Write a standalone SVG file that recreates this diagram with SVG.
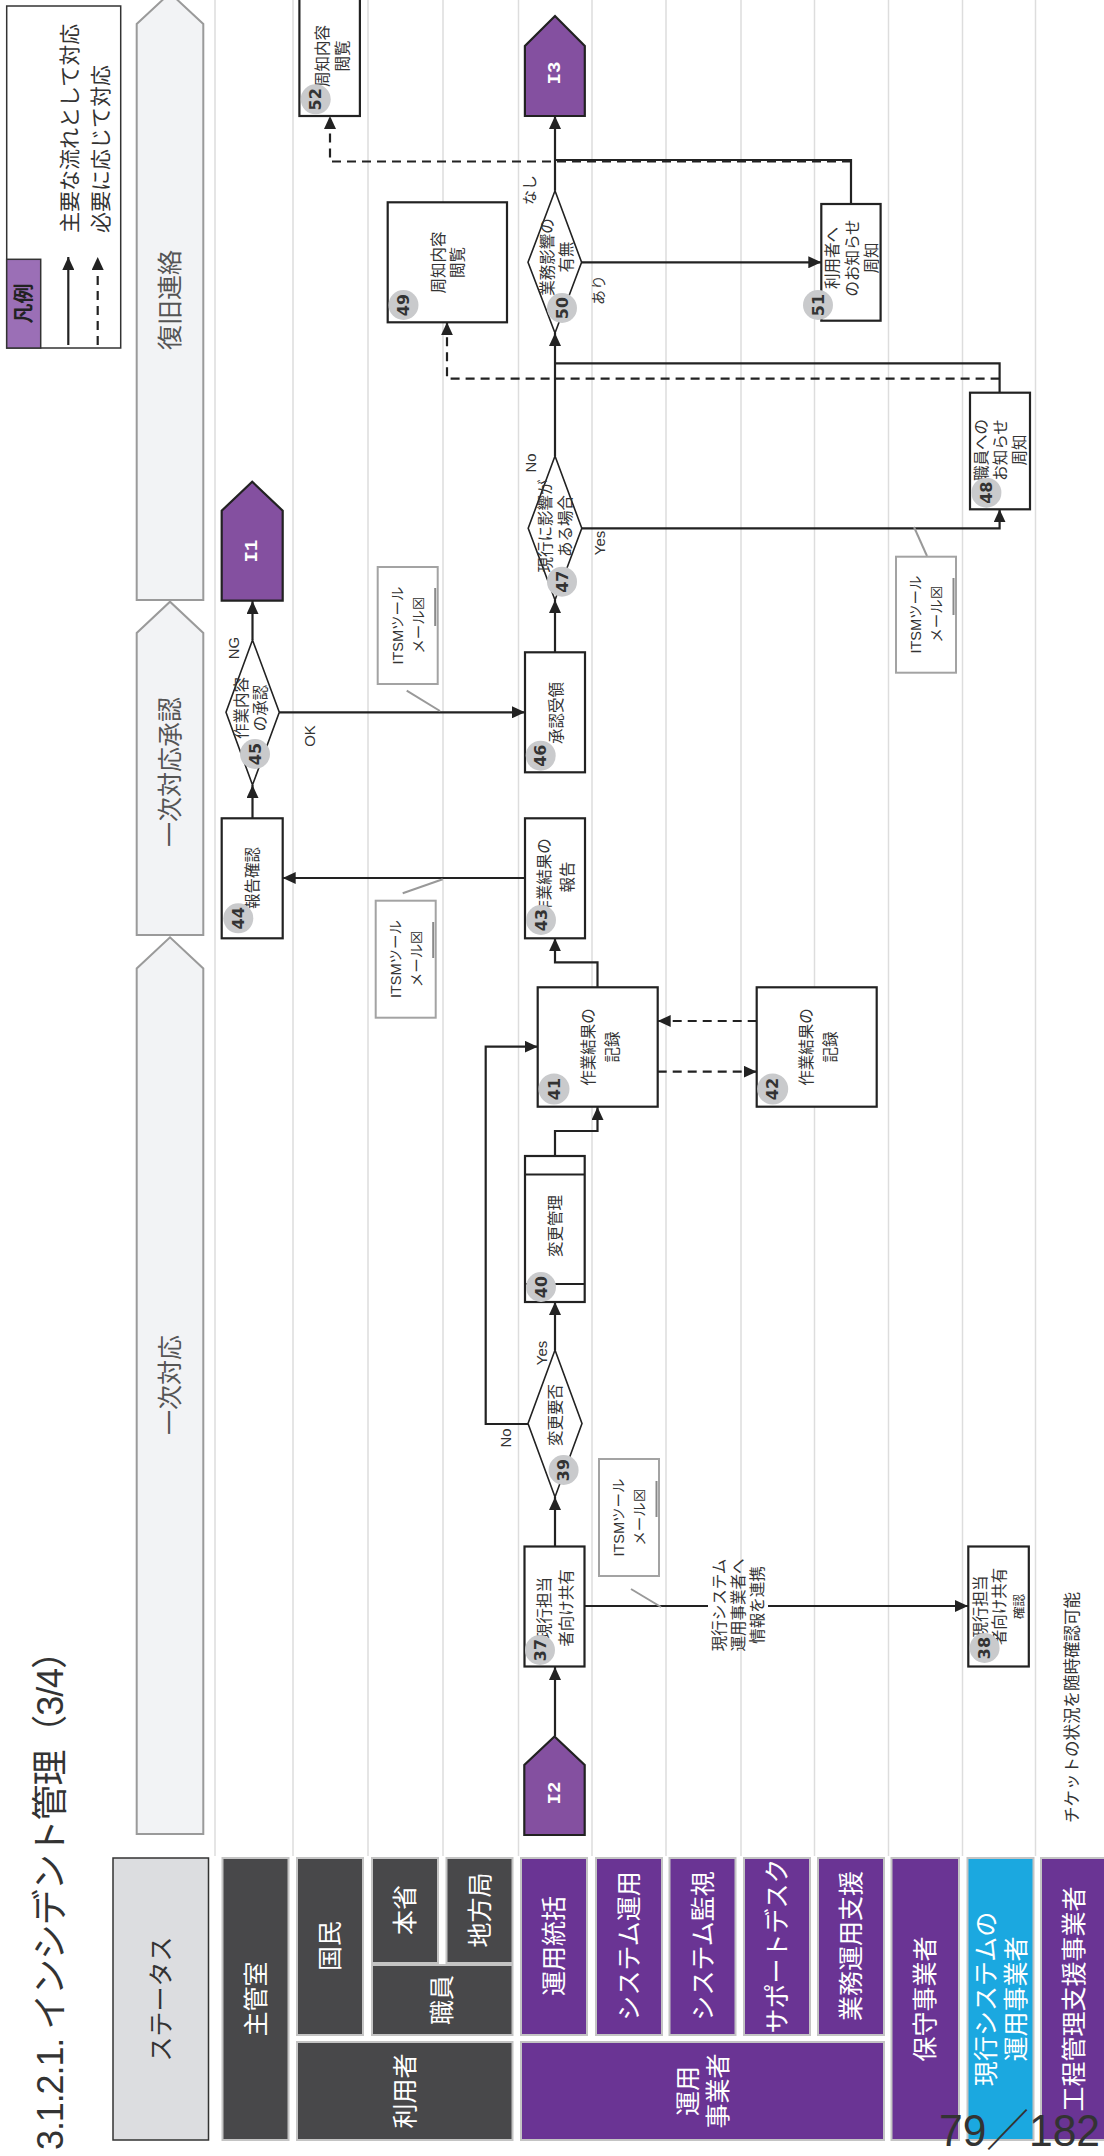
<svg xmlns="http://www.w3.org/2000/svg" width="1104" height="2156" viewBox="0 0 1104 2156">
<style>
text{font-family:'Liberation Sans','Noto Sans CJK JP',sans-serif;text-anchor:middle;dominant-baseline:central}
.lane{stroke:#dddddd;stroke-width:1.5}
.chev{fill:#f2f3f5;stroke:#9a9a9a;stroke-width:2}
.chevt{font-size:25px;fill:#555}
.hd{fill:#48484a;stroke:#c4c4c4;stroke-width:2}
.hp{fill:#6a3494;stroke:#c4c4c4;stroke-width:2}
.hc{fill:#1ba8e0;stroke:#c4c4c4;stroke-width:2}
.ht{fill:#fff;font-size:25px}
.box{fill:#fff;stroke:#222;stroke-width:2.2}
.dia{fill:#fff;stroke:#222;stroke-width:1.6}
.nt{font-size:15.5px;fill:#333}
.bg{fill:#c9cacc}
.bn{font-family:'DejaVu Sans',sans-serif;font-size:16px;font-weight:bold;fill:#333}
.itsm{fill:#fff;stroke:#a3a3a3;stroke-width:2}
.itb{stroke:#8a8a8a;stroke-width:2}
.itt{font-size:14.5px;fill:#333}
.tick{stroke:#999;stroke-width:2}
.con{fill:none;stroke:#222;stroke-width:2.2}
.dash{stroke-dasharray:9 6}
.lbl{font-size:15px;fill:#333}
.pent{fill:#8450a0;stroke:#222;stroke-width:2.2}
.pt{font-family:'Liberation Mono',monospace;font-weight:bold;font-size:19px;fill:#fff}
</style>
<defs>
<marker id="ah" markerUnits="userSpaceOnUse" markerWidth="14" markerHeight="12" refX="13" refY="6" orient="auto">
<path d="M0,0 L13,6 L0,12 Z" fill="#222"/>
</marker>
</defs>

<rect width="1104" height="2156" fill="#fff"/>

<!-- swimlane separators -->
<g id="lanes">
<line class="lane" x1="215" y1="0" x2="215" y2="1856"/>
<line class="lane" x1="293" y1="0" x2="293" y2="1856"/>
<line class="lane" x1="368" y1="0" x2="368" y2="1856"/>
<line class="lane" x1="443" y1="0" x2="443" y2="1856"/>
<line class="lane" x1="518.5" y1="0" x2="518.5" y2="1856"/>
<line class="lane" x1="592" y1="0" x2="592" y2="1856"/>
<line class="lane" x1="666" y1="0" x2="666" y2="1856"/>
<line class="lane" x1="741" y1="0" x2="741" y2="1856"/>
<line class="lane" x1="814.5" y1="0" x2="814.5" y2="1856"/>
<line class="lane" x1="888.5" y1="0" x2="888.5" y2="1856"/>
<line class="lane" x1="962.5" y1="0" x2="962.5" y2="1856"/>
<line class="lane" x1="1035.5" y1="0" x2="1035.5" y2="1856"/>
</g>

<!-- title -->
<text transform="translate(63 2150) rotate(-90)" style="text-anchor:start;dominant-baseline:alphabetic" font-size="36" fill="#333" textLength="517" lengthAdjust="spacing">3.1.2.1. インシデント管理（3/4）</text>

<!-- legend -->
<g id="legend">
<rect x="6.7" y="6" width="114" height="342" fill="#fff" stroke="#333" stroke-width="1.5"/>
<rect x="6.7" y="259.3" width="34" height="88.7" fill="#9b6fb6" stroke="#333" stroke-width="1.5"/>
<text transform="translate(24 303.5) rotate(-90)" font-size="20" font-weight="bold" fill="#222">凡例</text>
<line class="con" x1="68.3" y1="345" x2="68.3" y2="257" marker-end="url(#ah)"/>
<line class="con dash" x1="97.7" y1="345" x2="97.7" y2="257" marker-end="url(#ah)"/>
<text transform="translate(69 233) rotate(-90)" style="text-anchor:start" font-size="21" fill="#333">主要な流れとして対応</text>
<text transform="translate(100 233) rotate(-90)" style="text-anchor:start" font-size="21" fill="#333">必要に応じて対応</text>
</g>

<!-- status phases -->
<g id="status">
<path class="chev" d="M136.7,600 V24 L170,-7 L203.3,24 V600 Z"/>
<text class="chevt" transform="translate(170 300) rotate(-90)">復旧連絡</text>
<path class="chev" d="M136.7,935 V633 L170,601.7 L203.3,633 V935 Z"/>
<text class="chevt" transform="translate(170 772) rotate(-90)">一次対応承認</text>
<path class="chev" d="M136.7,1834 V968.5 L170,937.3 L203.3,968.5 V1834 Z"/>
<text class="chevt" transform="translate(170 1385) rotate(-90)">一次対応</text>
</g>

<!-- lane headers -->
<g id="headers">
<rect x="113" y="1858" width="95.5" height="282" fill="#dcdde0" stroke="#333" stroke-width="1.5"/>
<text transform="translate(160.7 1999) rotate(-90)" font-size="25" fill="#333">ステータス</text>
<rect class="hd" x="222.5" y="1858" width="66" height="282"/>
<text class="ht" transform="translate(255.5 1999) rotate(-90)">主管室</text>
<rect class="hd" x="297" y="1858" width="66" height="177"/>
<text class="ht" transform="translate(330 1946) rotate(-90)">国民</text>
<rect class="hd" x="372" y="1858" width="66" height="105"/>
<text class="ht" transform="translate(405 1910) rotate(-90)">本省</text>
<rect class="hd" x="446.5" y="1858" width="66" height="105"/>
<text class="ht" transform="translate(479.5 1910) rotate(-90)">地方局</text>
<rect class="hd" x="372" y="1965" width="140.5" height="70"/>
<text class="ht" transform="translate(442 2000) rotate(-90)">職員</text>
<rect class="hd" x="297" y="2042" width="215.5" height="98"/>
<text class="ht" transform="translate(405 2091) rotate(-90)">利用者</text>
<rect class="hp" x="521" y="1858" width="66" height="177"/>
<text class="ht" transform="translate(554 1946) rotate(-90)">運用統括</text>
<rect class="hp" x="596" y="1858" width="66" height="177"/>
<text class="ht" transform="translate(629 1946) rotate(-90)">システム運用</text>
<rect class="hp" x="669.5" y="1858" width="66" height="177"/>
<text class="ht" transform="translate(702.5 1946) rotate(-90)">システム監視</text>
<rect class="hp" x="744" y="1858" width="66" height="177"/>
<text class="ht" transform="translate(777 1946) rotate(-90)">サポートデスク</text>
<rect class="hp" x="818" y="1858" width="66" height="177"/>
<text class="ht" transform="translate(851 1946) rotate(-90)">業務運用支援</text>
<rect class="hp" x="521" y="2042" width="363" height="98"/>
<text class="ht" transform="translate(703 2091) rotate(-90)"><tspan x="0" y="-15">運用</tspan><tspan x="0" y="15">事業者</tspan></text>
<rect class="hp" x="891.5" y="1858" width="67.5" height="282"/>
<text class="ht" transform="translate(925 1999) rotate(-90)">保守事業者</text>
<rect class="hc" x="967.5" y="1858" width="66" height="282"/>
<text class="ht" transform="translate(1001 1999) rotate(-90)" font-size="23"><tspan x="0" y="-15">現行システムの</tspan><tspan x="0" y="15">運用事業者</tspan></text>
<rect class="hp" x="1041" y="1858" width="66" height="282"/>
<text class="ht" transform="translate(1074 1999) rotate(-90)">工程管理支援事業者</text>
</g>

<!-- connectors -->
<g id="connectors">
<path class="con" d="M555,1736 V1667" marker-end="url(#ah)"/>
<path class="con" d="M555,1546 V1497" marker-end="url(#ah)"/>
<path class="con" d="M585,1606 H968" marker-end="url(#ah)"/>
<path class="con" d="M555,1350 V1302" marker-end="url(#ah)"/>
<path class="con" d="M528,1424 H485.7 V1046.7 H537.7" marker-end="url(#ah)"/>
<path class="con" d="M555,1156 V1131 H597.5 V1107" marker-end="url(#ah)"/>
<path class="con dash" d="M657.7,1071.7 H756.7" marker-end="url(#ah)"/>
<path class="con dash" d="M756.7,1021 H657.7" marker-end="url(#ah)"/>
<path class="con" d="M597.5,987 V962.3 H555 V938.3" marker-end="url(#ah)"/>
<path class="con" d="M525,878 H282.7" marker-end="url(#ah)"/>
<path class="con" d="M252.5,818 V785" marker-end="url(#ah)"/>
<path class="con" d="M252.5,640 V601" marker-end="url(#ah)"/>
<path class="con" d="M279.3,712.3 H525" marker-end="url(#ah)"/>
<path class="con" d="M555,652 V600" marker-end="url(#ah)"/>
<path class="con" d="M581.8,528.3 H999.6 V509.3" marker-end="url(#ah)"/>
<path class="con" d="M555,456 V333" marker-end="url(#ah)"/>
<path class="con" d="M999.6,392.7 V363.3 H555"/>
<path class="con dash" d="M999.6,378.7 H447 V322.3" marker-end="url(#ah)"/>
<path class="con" d="M581.6,262.3 H821.3" marker-end="url(#ah)"/>
<path class="con" d="M555,190.7 V116" marker-end="url(#ah)"/>
<path class="con" d="M851,204 V160 H555"/>
<path class="con dash" d="M851,161.5 H330 V116" marker-end="url(#ah)"/>

<rect x="708" y="1590" width="60" height="32" fill="#fff"/>
<text class="nt" font-size="14.5" transform="translate(737.5 1605) rotate(-90)"><tspan x="0" y="-18.5">現行システム</tspan><tspan x="0" y="0">運用事業者へ</tspan><tspan x="0" y="19">情報を連携</tspan></text>

<text class="lbl" transform="translate(541.7 1353) rotate(-90)">Yes</text>
<text class="lbl" transform="translate(505 1438) rotate(-90)">No</text>
<text class="lbl" transform="translate(233.3 648) rotate(-90)">NG</text>
<text class="lbl" transform="translate(309 736) rotate(-90)">OK</text>
<text class="lbl" transform="translate(530 463) rotate(-90)">No</text>
<text class="lbl" transform="translate(599.6 543) rotate(-90)">Yes</text>
<text class="lbl" transform="translate(529.6 190) rotate(-90)">なし</text>
<text class="lbl" transform="translate(598 290) rotate(-90)">あり</text>
</g>

<!-- tool callouts -->
<g id="itsm1">
<line class="tick" x1="631" y1="1589" x2="661" y2="1607"/>
<rect class="itsm" x="599" y="1459" width="60" height="117"/>
<line class="itb" x1="656.5" y1="1481" x2="656.5" y2="1517"/>
<text class="itt" transform="translate(629.5 1517.5) rotate(-90)"><tspan x="0" y="-10.5">ITSMツール</tspan><tspan x="0" y="10.5">メール☒</tspan></text>
</g>
<g id="itsm2">
<line class="tick" x1="406.7" y1="690.7" x2="440" y2="711"/>
<rect class="itsm" x="377.7" y="567" width="60" height="117"/>
<line class="itb" x1="435.2" y1="588" x2="435.2" y2="626"/>
<text class="itt" transform="translate(408 625.5) rotate(-90)"><tspan x="0" y="-10.5">ITSMツール</tspan><tspan x="0" y="10.5">メール☒</tspan></text>
</g>
<g id="itsm3">
<line class="tick" x1="402.7" y1="893.3" x2="442.7" y2="879.3"/>
<rect class="itsm" x="375.7" y="900.7" width="60" height="117"/>
<line class="itb" x1="433.2" y1="922" x2="433.2" y2="958"/>
<text class="itt" transform="translate(406 959) rotate(-90)"><tspan x="0" y="-10.5">ITSMツール</tspan><tspan x="0" y="10.5">メール☒</tspan></text>
</g>
<g id="itsm4">
<line class="tick" x1="914" y1="527" x2="927" y2="556"/>
<rect class="itsm" x="896" y="556.7" width="60" height="116"/>
<line class="itb" x1="953.5" y1="578" x2="953.5" y2="615"/>
<text class="itt" transform="translate(926.5 614.5) rotate(-90)"><tspan x="0" y="-10.5">ITSMツール</tspan><tspan x="0" y="10.5">メール☒</tspan></text>
</g>

<!-- off-page connectors -->
<g id="I1">
<path class="pent" d="M221.7,600.7 V510.7 L252.2,481.7 L282.7,510.7 V600.7 Z"/>
<text class="pt" transform="translate(252.2 551) rotate(-90)">I1</text>
</g>
<g id="I2">
<path class="pent" d="M524.3,1835 V1765 L554.5,1736.5 L584.7,1765 V1835 Z"/>
<text class="pt" transform="translate(554.5 1793) rotate(-90)">I2</text>
</g>
<g id="I3">
<path class="pent" d="M524.9,116 V46 L555,16 L584.8,46 V116 Z"/>
<text class="pt" transform="translate(555 73) rotate(-90)">I3</text>
</g>

<!-- process nodes -->
<g id="n37">
<rect class="box" x="524.5" y="1546.5" width="60" height="120"/>
<text class="nt" transform="translate(554.5 1608) rotate(-90)"><tspan x="0" y="-11">現行担当</tspan><tspan x="0" y="11">者向け共有</tspan></text>
<circle class="bg" cx="540" cy="1650" r="15"/>
<text class="bn" transform="translate(540 1650) rotate(-90)">37</text>
</g>
<g id="n38">
<rect class="box" x="968.3" y="1546.5" width="60.5" height="120"/>
<text class="nt" transform="translate(999 1606.5) rotate(-90)"><tspan x="0" y="-19">現行担当</tspan><tspan x="0" y="0">者向け共有</tspan><tspan x="0" y="21" font-size="12.5">確認</tspan></text>
<circle class="bg" cx="984.6" cy="1648" r="15"/>
<text class="bn" transform="translate(984.6 1648) rotate(-90)">38</text>
</g>
<g id="n39">
<path class="dia" d="M555,1350 L582,1423.5 L555,1497 L528,1423.5 Z"/>
<text class="nt" font-size="16" transform="translate(555.5 1415) rotate(-90)">変更要否</text>
<circle class="bg" cx="563.6" cy="1470" r="15"/>
<text class="bn" transform="translate(563.6 1470) rotate(-90)">39</text>
</g>
<g id="n40">
<rect class="box" x="525" y="1156" width="59.7" height="146"/>
<line x1="525" y1="1174.5" x2="584.7" y2="1174.5" stroke="#222" stroke-width="2"/>
<line x1="525" y1="1284" x2="584.7" y2="1284" stroke="#222" stroke-width="2"/>
<text class="nt" font-size="16.5" transform="translate(555.5 1226) rotate(-90)">変更管理</text>
<circle class="bg" cx="541" cy="1287" r="15"/>
<text class="bn" transform="translate(541 1287) rotate(-90)">40</text>
</g>
<g id="n41">
<rect class="box" x="537.7" y="987.3" width="120" height="119.4"/>
<text class="nt" font-size="16.5" transform="translate(599.5 1047) rotate(-90)"><tspan x="0" y="-12">作業結果の</tspan><tspan x="0" y="12">記録</tspan></text>
<circle class="bg" cx="554" cy="1089" r="15.5"/>
<text class="bn" transform="translate(554 1089) rotate(-90)">41</text>
</g>
<g id="n42">
<rect class="box" x="756.7" y="987.3" width="120" height="119.4"/>
<text class="nt" font-size="16.5" transform="translate(818 1047) rotate(-90)"><tspan x="0" y="-12">作業結果の</tspan><tspan x="0" y="12">記録</tspan></text>
<circle class="bg" cx="772.7" cy="1089" r="15.5"/>
<text class="bn" transform="translate(772.7 1089) rotate(-90)">42</text>
</g>
<g id="n43">
<rect class="box" x="525" y="818.3" width="60" height="120"/>
<text class="nt" transform="translate(555 877) rotate(-90)"><tspan x="0" y="-11.5">作業結果の</tspan><tspan x="0" y="11.5">報告</tspan></text>
<circle class="bg" cx="541" cy="920" r="15"/>
<text class="bn" transform="translate(541 920) rotate(-90)">43</text>
</g>
<g id="n44">
<rect class="box" x="221.7" y="818.3" width="61" height="120"/>
<text class="nt" font-size="15.5" transform="translate(252.5 878) rotate(-90)">報告確認</text>
<circle class="bg" cx="238.3" cy="918.3" r="15"/>
<text class="bn" transform="translate(238.3 918.3) rotate(-90)">44</text>
</g>
<g id="n45">
<path class="dia" d="M252.5,640 L279.3,712.3 L252.5,785 L226,712.3 Z"/>
<text class="nt" font-size="15.5" transform="translate(250.5 708) rotate(-90)"><tspan x="0" y="-9.5">作業内容</tspan><tspan x="0" y="9.5">の承認</tspan></text>
<circle class="bg" cx="255" cy="754" r="15"/>
<text class="bn" transform="translate(255 754) rotate(-90)">45</text>
</g>
<g id="n46">
<rect class="box" x="525" y="652.3" width="60" height="120"/>
<text class="nt" font-size="16.5" transform="translate(556.5 713) rotate(-90)">承認受領</text>
<circle class="bg" cx="540.7" cy="755.7" r="15"/>
<text class="bn" transform="translate(540.7 755.7) rotate(-90)">46</text>
</g>
<g id="n47">
<path class="dia" d="M555,456 L581.8,528.3 L555,600 L528.2,528.3 Z"/>
<text class="nt" font-size="15" transform="translate(555 526) rotate(-90)"><tspan x="0" y="-10">現行に影響が</tspan><tspan x="0" y="10">ある場合</tspan></text>
<circle class="bg" cx="562" cy="581.7" r="15"/>
<text class="bn" transform="translate(562 581.7) rotate(-90)">47</text>
</g>
<g id="n48">
<rect class="box" x="970" y="392.7" width="60" height="116.6"/>
<text class="nt" font-size="15" transform="translate(1000 450) rotate(-90)"><tspan x="0" y="-19">職員への</tspan><tspan x="0" y="0">お知らせ</tspan><tspan x="0" y="19">周知</tspan></text>
<circle class="bg" cx="986.4" cy="492.7" r="15"/>
<text class="bn" transform="translate(986.4 492.7) rotate(-90)">48</text>
</g>
<g id="n49">
<rect class="box" x="387.7" y="202.3" width="119.3" height="120"/>
<text class="nt" transform="translate(447 262.5) rotate(-90)"><tspan x="0" y="-9.5">周知内容</tspan><tspan x="0" y="9.5">閲覧</tspan></text>
<circle class="bg" cx="403.5" cy="305" r="15"/>
<text class="bn" transform="translate(403.5 305) rotate(-90)">49</text>
</g>
<g id="n50">
<path class="dia" d="M555,190.7 L581.6,262.3 L555,333 L528,262.3 Z"/>
<text class="nt" font-size="15" transform="translate(556 257) rotate(-90)"><tspan x="0" y="-9.5">業務影響の</tspan><tspan x="0" y="9.5">有無</tspan></text>
<circle class="bg" cx="562" cy="308" r="15"/>
<text class="bn" transform="translate(562 308) rotate(-90)">50</text>
</g>
<g id="n51">
<rect class="box" x="821.3" y="204" width="59.3" height="116.7"/>
<text class="nt" font-size="15" transform="translate(851.5 258) rotate(-90)"><tspan x="0" y="-19.5">利用者へ</tspan><tspan x="0" y="0">のお知らせ</tspan><tspan x="0" y="19.5">周知</tspan></text>
<circle class="bg" cx="818" cy="305" r="15"/>
<text class="bn" transform="translate(818 305) rotate(-90)">51</text>
</g>
<g id="n52">
<rect class="box" x="299.4" y="-4" width="60.5" height="120"/>
<text class="nt" font-size="15" transform="translate(331.7 56) rotate(-90)"><tspan x="0" y="-10">周知内容</tspan><tspan x="0" y="10">閲覧</tspan></text>
<circle class="bg" cx="315.7" cy="99.3" r="15"/>
<text class="bn" transform="translate(315.7 99.3) rotate(-90)">52</text>
</g>

<!-- footnote and page number -->
<text transform="translate(1071.7 1823) rotate(-90)" style="text-anchor:start" font-size="16.5" fill="#333">チケットの状況を随時確認可能</text>
<text x="939" y="2146" style="text-anchor:start;dominant-baseline:alphabetic" font-size="44" fill="#333" textLength="161" lengthAdjust="spacingAndGlyphs">79／182</text>
</svg>
